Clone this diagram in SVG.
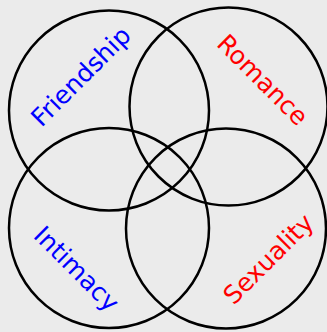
<svg xmlns="http://www.w3.org/2000/svg" width="327" height="332" viewBox="0 0 327 332">
<style>
.c{fill:none;stroke:#000;stroke-width:2.5}
.t{font-family:"DejaVu Sans",sans-serif;font-size:25px;text-anchor:middle;dominant-baseline:central}
.b{fill:#0000ff}
.r{fill:#ff0000}
</style>
<rect width="327" height="332" fill="#ebebeb"/>
<g id="friendship"><circle class="c" cx="109" cy="110.5" r="100"/><text class="t b" x="81" y="76.5" transform="rotate(-45 81 76.5)">Friendship</text></g>
<g id="romance"><circle class="c" cx="228.5" cy="106.5" r="99"/><text class="t r" x="262.5" y="80" transform="rotate(45 262.5 80)">Romance</text></g>
<g id="intimacy"><circle class="c" cx="109" cy="228" r="100"/><text class="t b" x="76.5" y="269" transform="rotate(45 76.5 269)">Intimacy</text></g>
<g id="sexuality"><circle class="c" cx="226" cy="228.5" r="100"/><text class="t r" x="268.5" y="259" transform="rotate(-45 268.5 259)">Sexuality</text></g>
<g id="connectors"/>
</svg>
